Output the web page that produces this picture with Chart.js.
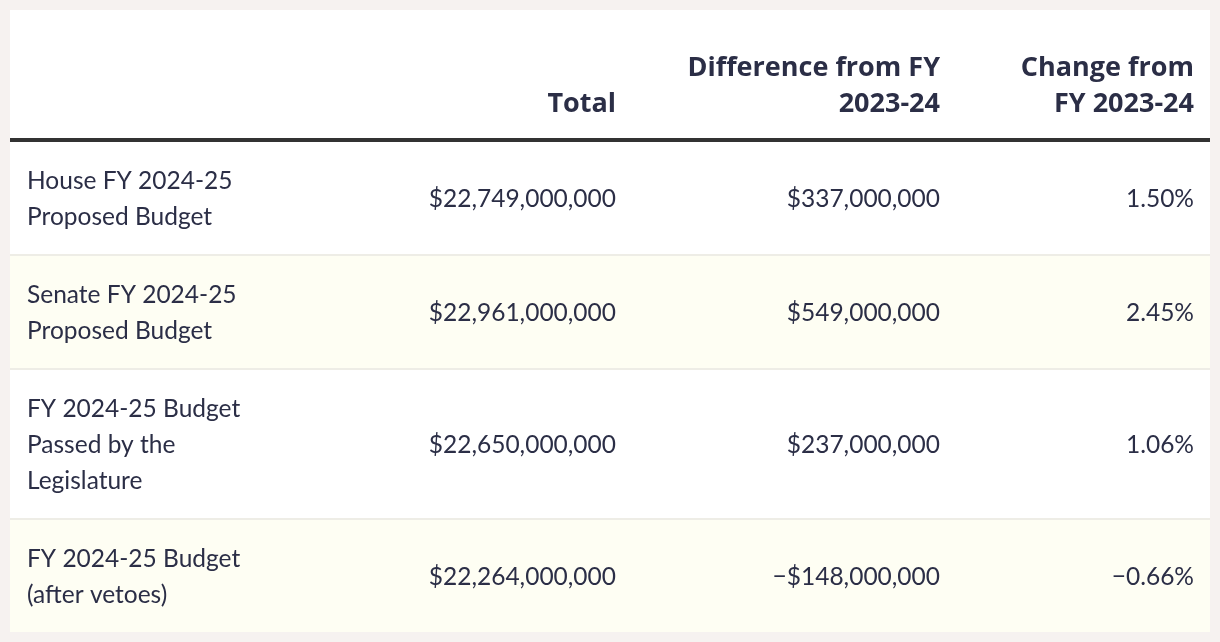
<!DOCTYPE html>
<html>
<head>
<meta charset="utf-8">
<script src="https://cdn.jsdelivr.net/npm/chart.js@4.4.0/dist/chart.umd.min.js"></script>
<style>
    html, body { margin: 0; padding: 0; background: #f6f2f0; }
    #wrap { position: absolute; left: 10px; top: 10px; width: 1200px; height: 622px; }
</style>
</head>
<body>
<div id="wrap"><canvas id="tabla" width="1200" height="622"></canvas></div>
<script>
// Datos de la tabla
const headers = ['', 'Total', 'Difference from FY\n2023-24', 'Change from\nFY 2023-24'];
const rowLabels = [
    'House FY 2024-25\nProposed Budget',
    'Senate FY 2024-25\nProposed Budget',
    'FY 2024-25 Budget\nPassed by the\nLegislature',
    'FY 2024-25 Budget\n(after vetoes)'
];
const totals = ['$22,749,000,000', '$22,961,000,000', '$22,650,000,000', '$22,264,000,000'];
const differences = ['$337,000,000', '$549,000,000', '$237,000,000', '\u2212$148,000,000'];
const changes = ['1.50%', '2.45%', '1.06%', '\u22120.66%'];

// Estilo
const FONT = 'Lato, "Noto Sans", sans-serif';
const HEAD_FONT = '"Open Sans", Lato, sans-serif';
const TEXT_COLOR = '#2b2e46';
const LINE_H = 36;
const ROW_PAD = 40;
const SEP = 2;
const HEADER_H = 128;
const HEADER_RULE = 4;
const colLeft = 17;                 // columna de etiquetas (alineada a la izquierda)
const colRight = [null, 606, 930, 1184]; // columnas numéricas (alineadas a la derecha)

// Filas en unidades del eje y (calculadas a partir de las líneas de texto)
const rowBounds = [];
let yPos = HEADER_H + HEADER_RULE;
rowLabels.forEach((lbl, i) => {
    const h = lbl.split('\n').length * LINE_H + ROW_PAD;
    rowBounds.push([yPos, yPos + h]);
    yPos += h + (i < rowLabels.length - 1 ? SEP : 0);
});
const totalH = yPos;

const tablePlugin = {
    id: 'tablePlugin',
    beforeDraw(chart) {
        const ctx = chart.ctx;
        const x = chart.scales.x;
        const y = chart.scales.y;
        const left = x.getPixelForValue(0), right = x.getPixelForValue(1200);

        ctx.save();
        ctx.fillStyle = '#ffffff';
        ctx.fillRect(left, y.getPixelForValue(0), right - left, y.getPixelForValue(totalH) - y.getPixelForValue(0));

        // Encabezado
        ctx.fillStyle = TEXT_COLOR;
        ctx.font = 'bold 27px ' + HEAD_FONT;
        ctx.textBaseline = 'middle';
        headers.forEach((h, c) => {
            if (!h) return;
            const lines = h.split('\n');
            ctx.textAlign = c === 0 ? 'left' : 'right';
            const px = c === 0 ? x.getPixelForValue(colLeft) : x.getPixelForValue(colRight[c]);
            lines.forEach((ln, k) => {
                const cy = HEADER_H - 17 - (lines.length - 1 - k) * LINE_H - LINE_H / 2 + 1;
                ctx.fillText(ln, px, y.getPixelForValue(cy));
            });
        });
        ctx.fillStyle = '#333333';
        ctx.fillRect(left, y.getPixelForValue(HEADER_H), right - left, HEADER_RULE);

        // Filas
        rowBounds.forEach(([y0, y1], i) => {
            const top = y.getPixelForValue(y0), bot = y.getPixelForValue(y1);
            ctx.fillStyle = i % 2 === 1 ? '#fefef3' : '#ffffff';
            ctx.fillRect(left, top, right - left, bot - top);
            if (i < rowBounds.length - 1) {
                ctx.fillStyle = '#eeede6';
                ctx.fillRect(left, bot, right - left, SEP);
            }
            const mid = (y0 + y1) / 2 + 1.5;
            ctx.fillStyle = TEXT_COLOR;
            ctx.font = '24.5px ' + FONT;
            const lines = rowLabels[i].split('\n');
            ctx.textAlign = 'left';
            lines.forEach((ln, k) => {
                const cy = mid + (k - (lines.length - 1) / 2) * LINE_H;
                ctx.fillText(ln, x.getPixelForValue(colLeft), y.getPixelForValue(cy));
            });
            ctx.textAlign = 'right';
            [totals[i], differences[i], changes[i]].forEach((v, c) => {
                ctx.fillText(v, x.getPixelForValue(colRight[c + 1]), y.getPixelForValue(mid));
            });
        });
        ctx.restore();
    }
};

new Chart(document.getElementById('tabla'), {
    type: 'scatter',
    data: { datasets: [] },
    options: {
        responsive: false,
        animation: false,
        devicePixelRatio: 1,
        layout: { padding: 0 },
        plugins: { legend: { display: false }, tooltip: { enabled: false } },
        scales: {
            x: { type: 'linear', min: 0, max: 1200, display: false },
            y: { type: 'linear', min: 0, max: totalH, reverse: true, display: false }
        }
    },
    plugins: [tablePlugin]
});
</script>
</body>
</html>
